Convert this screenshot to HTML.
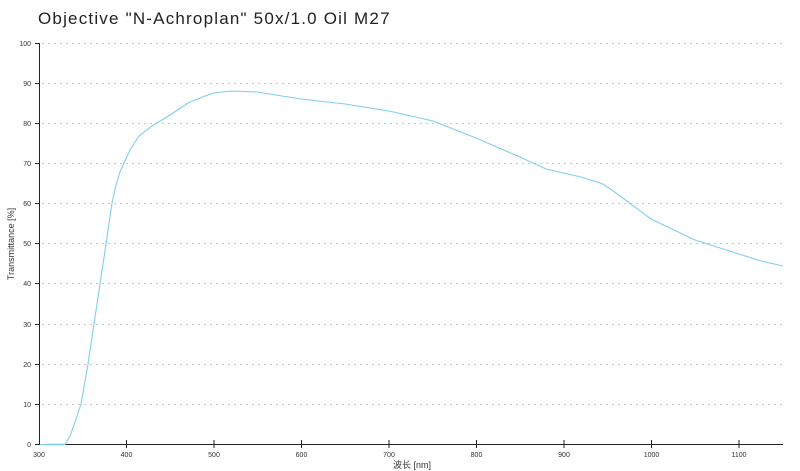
<!DOCTYPE html>
<html><head><meta charset="utf-8"><style>
html,body{margin:0;padding:0;background:#fff;}
svg{display:block;}
</style></head><body>
<svg width="800" height="471" xmlns="http://www.w3.org/2000/svg" font-family="Liberation Sans, DejaVu Sans, sans-serif">
<text x="38" y="24" font-size="17" letter-spacing="1.2" fill="#222">Objective "N-Achroplan" 50x/1.0 Oil M27</text>
<g stroke="#c8c8c8" stroke-width="1" stroke-dasharray="2,4">
<line x1="42" x2="783" y1="43.5" y2="43.5"/>
<line x1="42" x2="783" y1="83.5" y2="83.5"/>
<line x1="42" x2="783" y1="123.5" y2="123.5"/>
<line x1="42" x2="783" y1="163.5" y2="163.5"/>
<line x1="42" x2="783" y1="203.5" y2="203.5"/>
<line x1="42" x2="783" y1="243.5" y2="243.5"/>
<line x1="42" x2="783" y1="283.5" y2="283.5"/>
<line x1="42" x2="783" y1="324.5" y2="324.5"/>
<line x1="42" x2="783" y1="364.5" y2="364.5"/>
<line x1="42" x2="783" y1="404.5" y2="404.5"/>
</g>
<g stroke="#222" stroke-width="1">
<line x1="39.5" x2="39.5" y1="43" y2="445"/>
<line x1="39" x2="783" y1="444.5" y2="444.5"/>
<line x1="35" x2="39" y1="43.5" y2="43.5"/><line x1="35" x2="39" y1="83.5" y2="83.5"/><line x1="35" x2="39" y1="123.5" y2="123.5"/><line x1="35" x2="39" y1="163.5" y2="163.5"/><line x1="35" x2="39" y1="203.5" y2="203.5"/><line x1="35" x2="39" y1="243.5" y2="243.5"/><line x1="35" x2="39" y1="283.5" y2="283.5"/><line x1="35" x2="39" y1="324.5" y2="324.5"/><line x1="35" x2="39" y1="364.5" y2="364.5"/><line x1="35" x2="39" y1="404.5" y2="404.5"/><line x1="35" x2="39" y1="444.5" y2="444.5"/>
<line x1="126.5" x2="126.5" y1="440" y2="448"/><line x1="214" x2="214" y1="440" y2="448"/><line x1="301.5" x2="301.5" y1="440" y2="448"/><line x1="389" x2="389" y1="440" y2="448"/><line x1="476.5" x2="476.5" y1="440" y2="448"/><line x1="564" x2="564" y1="440" y2="448"/><line x1="651.5" x2="651.5" y1="440" y2="448"/><line x1="739" x2="739" y1="440" y2="448"/>
</g>
<g font-size="7" fill="#333" text-anchor="end">
<text x="31" y="46">100</text><text x="31" y="86">90</text><text x="31" y="126">80</text><text x="31" y="166">70</text><text x="31" y="206">60</text><text x="31" y="246">50</text><text x="31" y="286">40</text><text x="31" y="327">30</text><text x="31" y="367">20</text><text x="31" y="407">10</text><text x="31" y="447">0</text>
</g>
<g font-size="7" fill="#333" text-anchor="middle">
<text x="39" y="457">300</text><text x="126.5" y="457">400</text><text x="214" y="457">500</text><text x="301.5" y="457">600</text><text x="389" y="457">700</text><text x="476.5" y="457">800</text><text x="564" y="457">900</text><text x="651.5" y="457">1000</text><text x="739" y="457">1100</text>
</g>
<text x="412" y="468" font-size="9" fill="#333" text-anchor="middle" font-family="Liberation Sans, Noto Sans CJK SC, sans-serif">波长 [nm]</text>
<text transform="translate(14,244) rotate(-90)" font-size="9" fill="#333" text-anchor="middle">Transmittance [%]</text>
<line x1="47" x2="64" y1="444.5" y2="444.5" stroke="#1a4a6a" stroke-width="1.2"/>
<polyline fill="none" stroke="#7fcfee" stroke-width="1.1" points="
40,444.5 65,444.5 70,436 75,422 81,404 88,364 94,324 100,284 106,244 112,203 116,185 120,172 124,163 130,150 139,136 152,126 170,115 188,103 205,96 214,93 231,91 257,92 301,99 345,104 389,111 433,121 476,138 520,157 546,169 581,177 603,184 616,193 651,219 695,240 739,254 761,261 783,266"/>
</svg>
</body></html>
